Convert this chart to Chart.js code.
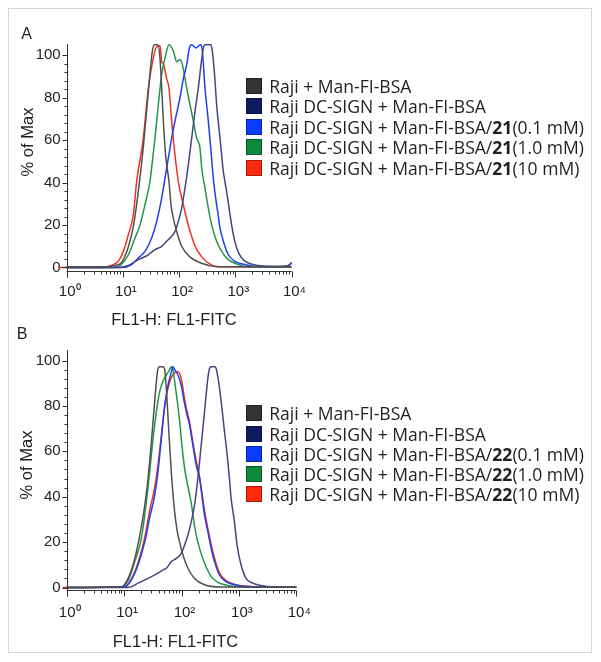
<!DOCTYPE html>
<html><head><meta charset="utf-8">
<script src="https://cdn.jsdelivr.net/npm/chart.js@4.4.1/dist/chart.umd.min.js"></script>
<style>
html,body{margin:0;padding:0;background:#fff;}
body{width:601px;height:662px;position:relative;overflow:hidden;font-family:"Liberation Sans",Arial,sans-serif;color:#222;}
#frame{position:absolute;left:8px;top:8px;width:584px;height:645px;border:1px solid #d6d6d6;box-sizing:border-box;}
canvas{position:absolute;left:0;}
.lbl{position:absolute;white-space:nowrap;line-height:1;transform:translate(-50%,-50%);font-size:16.5px;color:#222;}
.rot{transform:translate(-50%,-50%) rotate(-90deg);}
.row{position:absolute;height:16px;display:flex;align-items:center;white-space:nowrap;}
.sw{width:16px;height:16px;box-sizing:border-box;border:1px solid rgba(0,0,0,0.35);flex:none;}
.lt{font-family:"Open Sans",sans-serif;font-size:15.5px;line-height:16px;color:#231f20;position:absolute;}
.lt b{font-weight:700;}
</style></head>
<body>
<div id="frame"></div>
<canvas id="cA" width="601" height="330" style="top:0px"></canvas>
<canvas id="cB" width="601" height="332" style="top:330px"></canvas>
<div class="lbl" style="left:26.7px;top:34.2px;font-size:16px">A</div>
<div class="lbl" style="left:22px;top:333.5px;font-size:16px">B</div>
<div class="lbl rot" style="left:27px;top:142px">% of Max</div>
<div class="lbl rot" style="left:26px;top:465px">% of Max</div>
<div class="lbl" style="left:174px;top:319px">FL1-H: FL1-FITC</div>
<div class="lbl" style="left:175.5px;top:641px">FL1-H: FL1-FITC</div>
<div id="legA"></div>
<div id="legB"></div>
<script>
// ---------- data (x = log10 of FL1-H, y = % of Max) ----------
const xTickLabels = ['10\u2070','10\u00B9','10\u00B2','10\u00B3','10\u2074'];
const xTickValues = [0,1,2,3,4];
const yTickValues = [0,20,40,60,80,100];

const legendA = ['Raji + Man-FI-BSA','Raji DC-SIGN + Man-FI-BSA','Raji DC-SIGN + Man-FI-BSA/21(0.1 mM)','Raji DC-SIGN + Man-FI-BSA/21(1.0 mM)','Raji DC-SIGN + Man-FI-BSA/21(10 mM)'];
const legendB = ['Raji + Man-FI-BSA','Raji DC-SIGN + Man-FI-BSA','Raji DC-SIGN + Man-FI-BSA/22(0.1 mM)','Raji DC-SIGN + Man-FI-BSA/22(1.0 mM)','Raji DC-SIGN + Man-FI-BSA/22(10 mM)'];

const A_raji = [[0,0.3],[0.7,0.3],[0.86,1],[0.98,2.5],[1.1,10],[1.19,20],[1.275,36],[1.364,57],[1.453,83],[1.524,102],[1.56,105],[1.62,105],[1.66,98.7],[1.69,84.6],[1.72,69],[1.76,53],[1.82,40.6],[1.856,29.6],[1.897,23.3],[1.957,17],[2.046,10],[2.19,5],[2.4,2],[2.64,0.5],[3.0,0.3],[4,0.3]];
const A_dcsign = [[0,0],[0.919,0],[1.097,1],[1.275,3.7],[1.453,6],[1.571,8.4],[1.69,10],[1.779,12.4],[1.838,13.9],[1.927,17],[1.986,21.7],[2.046,28],[2.105,37.4],[2.164,48.4],[2.224,61],[2.283,73.6],[2.342,84.6],[2.39,95.6],[2.431,103.4],[2.461,105],[2.568,105],[2.591,102],[2.627,92.4],[2.668,76.7],[2.728,61],[2.787,45.3],[2.846,35.8],[2.906,24.9],[2.965,15.5],[3.024,9.2],[3.113,4.5],[3.232,2.1],[3.41,1],[3.7,0.5],[3.95,0.8],[4,2.5]];
const A_c01 = [[0,0],[0.978,0],[1.156,1.4],[1.275,4.5],[1.393,7.6],[1.512,13.9],[1.601,21.7],[1.69,32.7],[1.749,42],[1.808,51.5],[1.868,61],[1.927,69],[2.016,80],[2.075,89],[2.135,95.6],[2.182,103.4],[2.224,105],[2.3,103.5],[2.35,104.5],[2.39,105],[2.414,102],[2.461,84.6],[2.52,69],[2.568,54.7],[2.609,42],[2.651,32.7],[2.686,26.4],[2.728,18.6],[2.787,12.4],[2.876,6],[2.995,2.9],[3.173,1.4],[3.351,0.5],[3.9,0.5],[4,2]];
const A_c10 = [[0,0],[0.7,0],[0.919,0.5],[1.097,6],[1.215,13.9],[1.304,20],[1.393,29.6],[1.482,40.6],[1.524,50],[1.571,61],[1.63,76.7],[1.69,90.9],[1.749,98.7],[1.82,105],[1.897,102],[1.957,97],[2.016,98],[2.058,95.6],[2.093,91],[2.135,84.6],[2.194,76.7],[2.253,69],[2.313,61],[2.372,56.3],[2.402,46.9],[2.461,37.4],[2.52,28],[2.58,20],[2.668,12.4],[2.757,7.6],[2.876,3.7],[3.054,1.4],[3.232,0.3],[4,0.2]];
const A_c100 = [[-0.15,0],[0.6,0],[0.741,0.5],[0.919,3],[1.008,7.6],[1.097,15.5],[1.186,25],[1.245,40.6],[1.364,61],[1.453,84.6],[1.541,98.7],[1.6,104],[1.66,104.5],[1.69,97],[1.719,96],[1.779,89],[1.82,84.6],[1.868,69],[1.927,53],[1.986,40.6],[2.075,29.6],[2.164,20],[2.283,10.1],[2.402,5],[2.58,1.1],[2.757,0.3],[4,0.2]];

const B_raji = [[0,0],[0.954,0.3],[1.07,4],[1.186,12.8],[1.273,23],[1.359,36],[1.417,48],[1.475,64],[1.533,82],[1.591,96.5],[1.62,97.3],[1.678,97.3],[1.707,96],[1.736,87.7],[1.776,70],[1.822,51],[1.88,33.4],[1.927,24.6],[1.967,20],[2.025,14.3],[2.112,8.5],[2.227,4],[2.401,1.2],[2.69,0.2],[4,0.1]];
const B_dcsign = [[0,0],[1.07,0],[1.244,1.9],[1.417,4],[1.591,6.3],[1.678,7.8],[1.736,8.5],[1.822,11.4],[1.909,12.8],[1.996,15],[2.054,18.7],[2.112,23.1],[2.17,29],[2.227,36.3],[2.285,48.1],[2.343,62.7],[2.401,77.4],[2.459,92.1],[2.488,96.5],[2.52,97.3],[2.575,97.3],[2.604,96.5],[2.644,91.1],[2.69,82.2],[2.748,68.9],[2.795,58.6],[2.835,48.1],[2.864,39.3],[2.922,29],[2.968,18.7],[3.038,9.9],[3.124,4],[3.24,1.9],[3.385,0.9],[3.6,0.3],[4,0.2]];
const B_c01 = [[0,0],[1.012,0.3],[1.128,3.4],[1.244,10],[1.359,20],[1.446,30.8],[1.533,40.7],[1.591,51],[1.649,65.6],[1.707,80],[1.765,89],[1.822,94.9],[1.851,97.3],[1.88,96],[1.938,93.6],[1.996,89],[2.042,82.6],[2.083,77.4],[2.141,71.5],[2.198,62.7],[2.256,54],[2.314,48.1],[2.355,40.7],[2.401,31.9],[2.459,24.6],[2.517,17.3],[2.575,11.4],[2.661,5.5],[2.777,2.6],[2.922,1.2],[3.153,0.4],[3.6,0.2],[4,0.1]];
const B_c10 = [[0,0],[0.954,0.3],[1.07,3],[1.186,11.4],[1.301,21.6],[1.388,37.7],[1.446,51],[1.504,65.6],[1.562,77.4],[1.62,86.3],[1.678,91],[1.736,93.6],[1.793,96],[1.822,97.3],[1.851,96],[1.88,91],[1.926,82.2],[1.967,73.4],[2.007,62.7],[2.054,52.5],[2.112,44.5],[2.17,37.2],[2.216,29],[2.256,23.1],[2.331,15.8],[2.413,10],[2.517,4.8],[2.633,2.3],[2.806,0.9],[3.1,0.3],[4,0.1]];
const B_c100 = [[-0.07,0],[1.012,0.3],[1.128,3.8],[1.244,11],[1.359,22],[1.446,34],[1.533,44],[1.591,54],[1.649,67],[1.707,80],[1.765,88],[1.822,92.5],[1.88,94.5],[1.938,95],[1.996,92],[2.042,85],[2.083,79],[2.141,73],[2.198,64],[2.256,56],[2.314,49],[2.355,42],[2.401,34],[2.459,26],[2.517,19],[2.575,13],[2.661,6.5],[2.777,3],[2.922,1.4],[3.153,0.5],[3.6,0.2],[4,0.1]];

// ---------- styles ----------
const lineColors = ['#505050','#44467f','#1f3ff0','#23954b','#f0321f'];
const swatchColors = ['#333333','#101a5e','#0a3bff','#0f8a3c','#ff2a0a'];

const axisPlugin = {
  id: 'flowAxes',
  afterDatasetsDraw(chart) {
    const {ctx, chartArea: a, scales: {x, y}} = chart;
    ctx.save();
    ctx.strokeStyle = '#333';
    ctx.lineWidth = 1;
    ctx.beginPath();
    const xl = Math.round(a.left) + 0.5;
    const yb = Math.round(a.bottom) + 0.5;
    ctx.moveTo(xl, a.top); ctx.lineTo(xl, yb + 6);
    ctx.moveTo(a.left, yb); ctx.lineTo(a.right, yb);
    xTickValues.forEach(v => { const p = Math.round(x.getPixelForValue(v)) + 0.5; ctx.moveTo(p, yb); ctx.lineTo(p, yb + 6); });
    for (let k = 0; k < 4; k++) for (let m = 2; m <= 9; m++) {
      const p = Math.round(x.getPixelForValue(k + Math.log10(m))) + 0.5;
      ctx.moveTo(p, yb); ctx.lineTo(p, yb + 3);
    }
    yTickValues.forEach(v => { const p = Math.round(y.getPixelForValue(v)) + 0.5; ctx.moveTo(xl - 5, p); ctx.lineTo(xl, p); });
    for (let v = 4; v < 104; v += 4) {
      if (v % 20 === 0) continue;
      const p = Math.round(y.getPixelForValue(v)) + 0.5; ctx.moveTo(xl - 3, p); ctx.lineTo(xl, p);
    }
    ctx.stroke();
    ctx.restore();
  }
};

function makeChart(id, series, labels, area, yRange) {
  const cv = document.getElementById(id);
  const W = cv.width, H = cv.height;
  return new Chart(cv, {
    type: 'line',
    data: {
      datasets: series.map((s, i) => ({
        label: labels[i],
        data: s.map(([x, y]) => ({x, y})),
        borderColor: lineColors[i],
        borderWidth: 1.5,
        pointRadius: 0,
        fill: false,
        cubicInterpolationMode: 'monotone',
        clip: {left: 12, right: 2, top: 1, bottom: 2}
      }))
    },
    options: {
      responsive: false, animation: false, events: [],
      layout: {padding: {left: 0, top: area.top, right: W - area.right, bottom: 0}},
      plugins: {legend: {display: false}, tooltip: {enabled: false}},
      scales: {
        x: {
          type: 'linear', min: 0, max: 4,
          grid: {display: false, drawTicks: false}, border: {display: false},
          afterBuildTicks: s => { s.ticks = xTickValues.map(v => ({value: v})); },
          afterFit: s => { s.height = H - area.bottom; },
          ticks: {padding: area.xpad, labelOffset: 3, color: '#222', font: {family: 'Liberation Sans', size: 15},
                  callback: v => xTickLabels[xTickValues.indexOf(v)] || ''}
        },
        y: {
          type: 'linear', min: yRange[0], max: yRange[1],
          grid: {display: false, drawTicks: false}, border: {display: false},
          afterBuildTicks: s => { s.ticks = yTickValues.map(v => ({value: v})); },
          afterFit: s => { s.width = area.left; },
          ticks: {padding: 6, color: '#222', font: {family: 'Liberation Sans', size: 15}, callback: v => String(v)}
        }
      }
    },
    plugins: [axisPlugin]
  });
}

makeChart('cA', [A_raji, A_dcsign, A_c01, A_c10, A_c100], legendA,
  {left: 66.7, right: 291.5, top: 44, bottom: 271, xpad: 12}, [-1.65, 105.33]);
makeChart('cB', [B_raji, B_dcsign, B_c01, B_c10, B_c100], legendB,
  {left: 66.7, right: 296.3, top: 20, bottom: 260, xpad: 13.5}, [-1.1, 104.63]);

function buildLegend(id, labels, rowTop, rowStep) {
  const host = document.getElementById(id);
  const spans = [];
  labels.forEach((t, i) => {
    const row = document.createElement('div');
    row.className = 'row';
    row.style.left = '245.7px';
    row.style.top = (rowTop + i * rowStep - 8) + 'px';
    const sw = document.createElement('div');
    sw.className = 'sw'; sw.style.background = swatchColors[i];
    const lt = document.createElement('span');
    lt.className = 'lt'; lt.style.left = '23.5px';
    lt.innerHTML = t.replace(/\/(\d+)\(/, '/<b>$1</b>(');
    row.appendChild(sw); row.appendChild(lt); host.appendChild(row);
    spans.push(lt);
  });
  const maxW = Math.max(...spans.map(s => s.getBoundingClientRect().width));
  const fs = 15.5 * 315 / maxW;
  spans.forEach(s => { s.style.fontSize = fs.toFixed(2) + 'px'; });
}
buildLegend('legA', legendA, 85.8, 20.5);
buildLegend('legB', legendB, 413.3, 20.2);
</script>
</body></html>
